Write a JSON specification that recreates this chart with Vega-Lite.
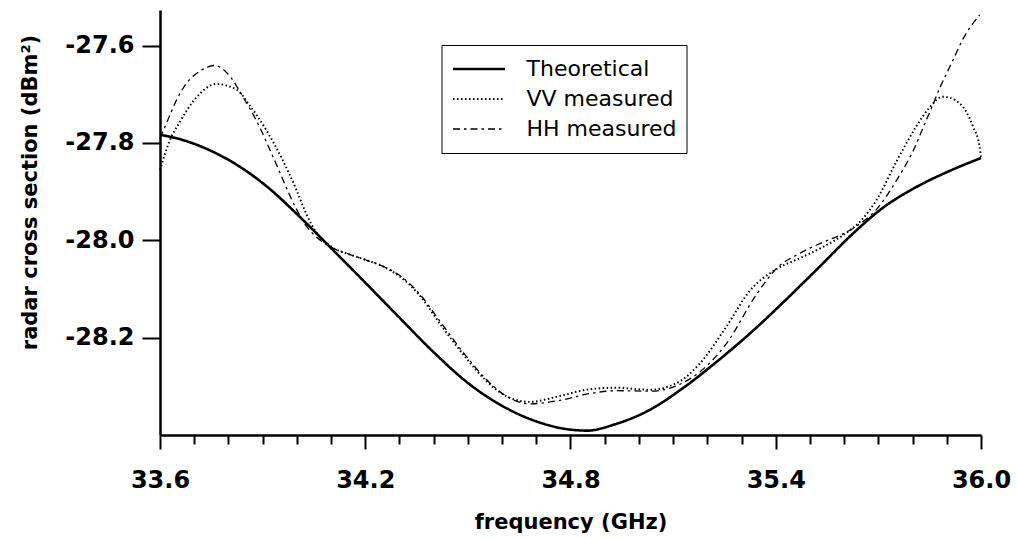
{
  "$schema": "https://vega.github.io/schema/vega-lite/v6.json",
  "width": 821,
  "height": 425,
  "autosize": "none",
  "padding": {"left": 160, "top": 10, "right": 36, "bottom": 103},
  "background": "white",
  "config": {"view": {"stroke": null}, "font": "DejaVu Sans"},
  "data": {"values": [
    {"s": "Theoretical", "f": 33.60, "v": -27.783},
    {"s": "Theoretical", "f": 33.68, "v": -27.797},
    {"s": "Theoretical", "f": 33.76, "v": -27.820},
    {"s": "Theoretical", "f": 33.84, "v": -27.852},
    {"s": "Theoretical", "f": 33.92, "v": -27.894},
    {"s": "Theoretical", "f": 34.00, "v": -27.946},
    {"s": "Theoretical", "f": 34.10, "v": -28.016},
    {"s": "Theoretical", "f": 34.20, "v": -28.087},
    {"s": "Theoretical", "f": 34.30, "v": -28.159},
    {"s": "Theoretical", "f": 34.40, "v": -28.230},
    {"s": "Theoretical", "f": 34.50, "v": -28.293},
    {"s": "Theoretical", "f": 34.60, "v": -28.340},
    {"s": "Theoretical", "f": 34.70, "v": -28.372},
    {"s": "Theoretical", "f": 34.80, "v": -28.389},
    {"s": "Theoretical", "f": 34.85, "v": -28.391},
    {"s": "Theoretical", "f": 34.93, "v": -28.378},
    {"s": "Theoretical", "f": 35.03, "v": -28.349},
    {"s": "Theoretical", "f": 35.13, "v": -28.303},
    {"s": "Theoretical", "f": 35.23, "v": -28.248},
    {"s": "Theoretical", "f": 35.33, "v": -28.188},
    {"s": "Theoretical", "f": 35.43, "v": -28.122},
    {"s": "Theoretical", "f": 35.53, "v": -28.053},
    {"s": "Theoretical", "f": 35.62, "v": -27.990},
    {"s": "Theoretical", "f": 35.71, "v": -27.935},
    {"s": "Theoretical", "f": 35.81, "v": -27.891},
    {"s": "Theoretical", "f": 35.91, "v": -27.857},
    {"s": "Theoretical", "f": 36.00, "v": -27.831},

    {"s": "HH measured", "f": 33.600, "v": -27.790},
    {"s": "HH measured", "f": 33.623, "v": -27.753},
    {"s": "HH measured", "f": 33.647, "v": -27.714},
    {"s": "HH measured", "f": 33.677, "v": -27.678},
    {"s": "HH measured", "f": 33.716, "v": -27.653},
    {"s": "HH measured", "f": 33.759, "v": -27.641},
    {"s": "HH measured", "f": 33.803, "v": -27.662},
    {"s": "HH measured", "f": 33.842, "v": -27.705},
    {"s": "HH measured", "f": 33.891, "v": -27.767},
    {"s": "HH measured", "f": 33.920, "v": -27.812},
    {"s": "HH measured", "f": 33.945, "v": -27.852},
    {"s": "HH measured", "f": 33.970, "v": -27.893},
    {"s": "HH measured", "f": 33.998, "v": -27.935},
    {"s": "HH measured", "f": 34.027, "v": -27.970},
    {"s": "HH measured", "f": 34.060, "v": -27.995},
    {"s": "HH measured", "f": 34.105, "v": -28.016},
    {"s": "HH measured", "f": 34.154, "v": -28.029},
    {"s": "HH measured", "f": 34.200, "v": -28.040},
    {"s": "HH measured", "f": 34.250, "v": -28.053},
    {"s": "HH measured", "f": 34.300, "v": -28.072},
    {"s": "HH measured", "f": 34.355, "v": -28.107},
    {"s": "HH measured", "f": 34.422, "v": -28.170},
    {"s": "HH measured", "f": 34.495, "v": -28.238},
    {"s": "HH measured", "f": 34.554, "v": -28.286},
    {"s": "HH measured", "f": 34.612, "v": -28.320},
    {"s": "HH measured", "f": 34.680, "v": -28.336},
    {"s": "HH measured", "f": 34.768, "v": -28.329},
    {"s": "HH measured", "f": 34.856, "v": -28.315},
    {"s": "HH measured", "f": 34.934, "v": -28.309},
    {"s": "HH measured", "f": 35.031, "v": -28.310},
    {"s": "HH measured", "f": 35.109, "v": -28.299},
    {"s": "HH measured", "f": 35.177, "v": -28.271},
    {"s": "HH measured", "f": 35.255, "v": -28.213},
    {"s": "HH measured", "f": 35.343, "v": -28.112},
    {"s": "HH measured", "f": 35.402, "v": -28.058},
    {"s": "HH measured", "f": 35.470, "v": -28.027},
    {"s": "HH measured", "f": 35.538, "v": -28.004},
    {"s": "HH measured", "f": 35.596, "v": -27.987},
    {"s": "HH measured", "f": 35.636, "v": -27.971},
    {"s": "HH measured", "f": 35.694, "v": -27.937},
    {"s": "HH measured", "f": 35.753, "v": -27.877},
    {"s": "HH measured", "f": 35.801, "v": -27.817},
    {"s": "HH measured", "f": 35.830, "v": -27.770},
    {"s": "HH measured", "f": 35.855, "v": -27.729},
    {"s": "HH measured", "f": 35.879, "v": -27.688},
    {"s": "HH measured", "f": 35.918, "v": -27.630},
    {"s": "HH measured", "f": 35.947, "v": -27.587},
    {"s": "HH measured", "f": 35.996, "v": -27.537},

    {"s": "VV measured", "f": 33.600, "v": -27.856},
    {"s": "VV measured", "f": 33.628, "v": -27.796},
    {"s": "VV measured", "f": 33.657, "v": -27.758},
    {"s": "VV measured", "f": 33.706, "v": -27.707},
    {"s": "VV measured", "f": 33.764, "v": -27.679},
    {"s": "VV measured", "f": 33.823, "v": -27.690},
    {"s": "VV measured", "f": 33.862, "v": -27.723},
    {"s": "VV measured", "f": 33.911, "v": -27.774},
    {"s": "VV measured", "f": 33.959, "v": -27.836},
    {"s": "VV measured", "f": 33.998, "v": -27.895},
    {"s": "VV measured", "f": 34.027, "v": -27.945},
    {"s": "VV measured", "f": 34.060, "v": -27.987},
    {"s": "VV measured", "f": 34.105, "v": -28.015},
    {"s": "VV measured", "f": 34.154, "v": -28.029},
    {"s": "VV measured", "f": 34.200, "v": -28.040},
    {"s": "VV measured", "f": 34.250, "v": -28.053},
    {"s": "VV measured", "f": 34.300, "v": -28.074},
    {"s": "VV measured", "f": 34.355, "v": -28.110},
    {"s": "VV measured", "f": 34.422, "v": -28.175},
    {"s": "VV measured", "f": 34.495, "v": -28.242},
    {"s": "VV measured", "f": 34.554, "v": -28.289},
    {"s": "VV measured", "f": 34.612, "v": -28.320},
    {"s": "VV measured", "f": 34.680, "v": -28.332},
    {"s": "VV measured", "f": 34.768, "v": -28.320},
    {"s": "VV measured", "f": 34.856, "v": -28.306},
    {"s": "VV measured", "f": 34.934, "v": -28.303},
    {"s": "VV measured", "f": 35.031, "v": -28.307},
    {"s": "VV measured", "f": 35.109, "v": -28.294},
    {"s": "VV measured", "f": 35.177, "v": -28.254},
    {"s": "VV measured", "f": 35.255, "v": -28.178},
    {"s": "VV measured", "f": 35.324, "v": -28.104},
    {"s": "VV measured", "f": 35.400, "v": -28.060},
    {"s": "VV measured", "f": 35.470, "v": -28.037},
    {"s": "VV measured", "f": 35.540, "v": -28.013},
    {"s": "VV measured", "f": 35.600, "v": -27.988},
    {"s": "VV measured", "f": 35.650, "v": -27.959},
    {"s": "VV measured", "f": 35.694, "v": -27.918},
    {"s": "VV measured", "f": 35.753, "v": -27.838},
    {"s": "VV measured", "f": 35.811, "v": -27.766},
    {"s": "VV measured", "f": 35.850, "v": -27.727},
    {"s": "VV measured", "f": 35.889, "v": -27.705},
    {"s": "VV measured", "f": 35.938, "v": -27.719},
    {"s": "VV measured", "f": 35.977, "v": -27.767},
    {"s": "VV measured", "f": 35.996, "v": -27.808},
    {"s": "VV measured", "f": 36.000, "v": -27.830}
  ]},
  "resolve": {"axis": {"x": "independent"}},
  "layer": [
    {
      "mark": {"type": "line", "interpolate": "monotone", "color": "black"},
      "encoding": {
        "x": {
          "field": "f", "type": "quantitative",
          "scale": {"domain": [33.6, 36.0], "nice": false, "zero": false},
          "axis": {
            "orient": "bottom",
            "values": [33.6, 34.2, 34.8, 35.4, 36.0], "format": ".1f",
            "grid": false, "tickSize": 14, "tickWidth": 2, "tickColor": "black",
            "domainWidth": 2.5, "domainColor": "black",
            "labelFont": "DejaVu Sans", "labelFontSize": 24, "labelFontWeight": "bold",
            "labelColor": "black", "labelPadding": 19, "labelFlush": false,
            "title": "frequency (GHz)", "titleFont": "DejaVu Sans", "titleFontSize": 21,
            "titleFontWeight": "bold", "titleColor": "black", "titlePadding": 19
          }
        },
        "y": {
          "field": "v", "type": "quantitative",
          "scale": {"domain": [-28.4, -27.527], "nice": false, "zero": false},
          "axis": {
            "values": [-27.6, -27.8, -28.0, -28.2],
            "labelExpr": "'-' + format(abs(datum.value), '.1f')",
            "grid": false, "tickSize": 18, "tickWidth": 2, "tickColor": "black",
            "domainWidth": 2.5, "domainColor": "black",
            "labelFont": "DejaVu Sans", "labelFontSize": 24, "labelFontWeight": "bold",
            "labelColor": "black", "labelPadding": 8,
            "title": "radar cross section (dBm²)", "titleFont": "DejaVu Sans",
            "titleFontSize": 21, "titleFontWeight": "bold", "titleColor": "black",
            "titleX": -130, "titleY": 182, "titleAlign": "center", "titleBaseline": "middle", "titleAngle": 270
          }
        },
        "strokeDash": {
          "field": "s", "type": "nominal",
          "scale": {"domain": ["Theoretical", "VV measured", "HH measured"], "range": [[1, 0], [1.5, 2.5], [7, 4, 2.5, 4]]},
          "legend": {
            "title": null, "orient": "none", "legendX": 281.5, "legendY": 35,
            "strokeColor": "black", "fillColor": "white", "padding": 10,
            "symbolType": "stroke", "symbolSize": 2704, "symbolStrokeColor": "black",
            "labelFont": "DejaVu Sans", "labelFontSize": 22, "labelColor": "black", "labelOffset": 20,
            "clipHeight": 28, "rowPadding": 2
          }
        },
        "strokeWidth": {
          "field": "s", "type": "nominal",
          "scale": {"domain": ["Theoretical", "VV measured", "HH measured"], "range": [2.6, 1.3, 2.4]},
          "legend": {
            "title": null, "orient": "none", "legendX": 281.5, "legendY": 35,
            "strokeColor": "black", "fillColor": "white", "padding": 10,
            "symbolType": "stroke", "symbolSize": 2704, "symbolStrokeColor": "black",
            "labelFont": "DejaVu Sans", "labelFontSize": 22, "labelColor": "black", "labelOffset": 20,
            "clipHeight": 28, "rowPadding": 2
          }
        }
      }
    },
    {
      "mark": {"type": "rule", "opacity": 0},
      "encoding": {
        "x": {
          "field": "f", "type": "quantitative",
          "axis": {
            "orient": "bottom",
            "values": [33.7, 33.8, 33.9, 34.0, 34.1, 34.3, 34.4, 34.5, 34.6, 34.7, 34.9, 35.0, 35.1, 35.2, 35.3, 35.5, 35.6, 35.7, 35.8, 35.9],
            "labels": false, "domain": false, "grid": false, "title": null,
            "tickSize": 9, "tickWidth": 2, "tickColor": "black"
          }
        }
      }
    }
  ]
}
